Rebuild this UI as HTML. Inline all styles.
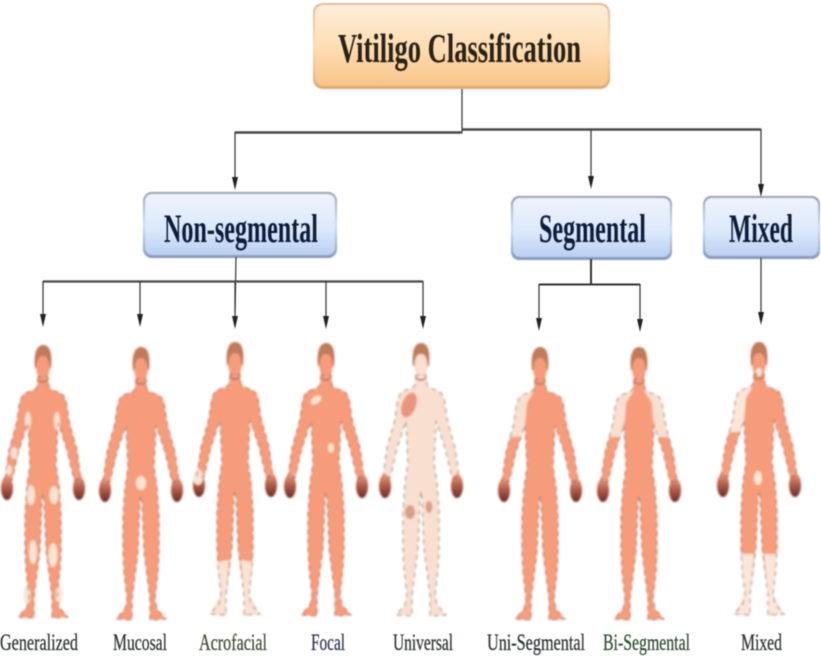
<!DOCTYPE html>
<html><head><meta charset="utf-8"><style>
html,body{margin:0;padding:0;background:#fff}
svg{display:block}
text{font-family:"Liberation Serif",serif}
</style></head><body>
<svg width="821" height="657" viewBox="0 0 821 657" xmlns="http://www.w3.org/2000/svg">
<defs>
<linearGradient id="o" x1="0" y1="0" x2="0" y2="1"><stop offset="0" stop-color="#fdeeda"/><stop offset=".55" stop-color="#fddcb0"/><stop offset="1" stop-color="#f8c488"/></linearGradient>
<linearGradient id="bl" x1="0" y1="0" x2="0" y2="1"><stop offset="0" stop-color="#eef4fd"/><stop offset=".6" stop-color="#dbe7fa"/><stop offset="1" stop-color="#b9cff2"/></linearGradient>
<linearGradient id="eo" x1="0" y1="0" x2="0" y2="1"><stop offset="0" stop-color="#dcb690"/><stop offset=".5" stop-color="#f6dcbc"/><stop offset="1" stop-color="#dca66e"/></linearGradient>
<linearGradient id="eb" x1="0" y1="0" x2="0" y2="1"><stop offset="0" stop-color="#8f9cb4"/><stop offset=".5" stop-color="#cfdcf2"/><stop offset="1" stop-color="#8496bb"/></linearGradient>
<linearGradient id="hd" x1="0" y1="0" x2="0" y2="1"><stop offset="0" stop-color="#f09c80"/><stop offset=".45" stop-color="#b5604c"/><stop offset="1" stop-color="#6e2a22"/></linearGradient>
<filter id="b" x="-5%" y="-5%" width="110%" height="110%"><feGaussianBlur stdDeviation="1"/></filter>
<filter id="t" x="-5%" y="-20%" width="110%" height="140%"><feGaussianBlur stdDeviation="0.6"/></filter>
<filter id="s" x="-5%" y="-10%" width="110%" height="125%"><feGaussianBlur stdDeviation="0.9"/></filter>
<path id="body" d="M-5,32 L-6,42 C-9,47 -17,46 -20,50 C-25,56 -24,68 -27,80 L-34,105 L-38,134 L-31,135 L-24,105 L-15,78 L-14,100 L-13,120 L-16,140 L-18,170 L-18,205 L-17,225 L-14,252 L-16,262 L-25,272 L-9,273 L-9,252 L-3,205 L-1,155 L0,148 L1,155 L3,205 L9,252 L9,273 L25,272 L16,262 L14,252 L17,225 L18,205 L18,170 L16,140 L13,120 L14,100 L15,78 L24,105 L31,135 L38,134 L34,105 L27,80 C24,68 25,56 20,50 C17,46 9,47 6,42 L5,32 Z"/>
<g id="line"><use href="#body" fill="none" stroke="#7d5f58" stroke-width="1" stroke-dasharray="5 4" opacity=".8"/></g>
<g id="hands"><ellipse cx="-36" cy="143" rx="6" ry="12" fill="url(#hd)"/><ellipse cx="36" cy="143" rx="6" ry="12" fill="url(#hd)"/></g>
<g id="head"><ellipse cx="0" cy="20" rx="7" ry="16"/></g>
<path id="hair" d="M-8,23 C-10,4 -4,0 0,0 C5,0 10,4 8,23 L6.500,23 C6,13 3,11 0,11 C-3,11 -6,13 -6.500,23Z M-6,33 Q0,39 6,33 L5,36 Q0,40 -5,36Z" fill="#c07a5c"/>
</defs>

<g filter="url(#s)">
<rect x="313" y="3" width="297" height="86" rx="10" fill="url(#eo)"/>
<rect x="143" y="192" width="194" height="66" rx="9" fill="url(#eb)"/>
<rect x="511" y="196" width="161" height="64" rx="8" fill="url(#eb)"/>
<rect x="703" y="196" width="117" height="63" rx="8" fill="url(#eb)"/>
<rect x="315" y="5" width="293" height="81" rx="8" fill="url(#o)"/>
<rect x="145" y="194" width="190" height="61" rx="7" fill="url(#bl)"/>
<rect x="513" y="198" width="157" height="59" rx="7" fill="url(#bl)"/>
<rect x="705" y="198" width="113" height="58" rx="7" fill="url(#bl)"/>
</g>

<g filter="url(#t)" fill="none" stroke="#333" stroke-width="1.2">
<path d="M462,89V133"/>
<path d="M235,132.500H462" stroke-width="2.400" stroke="#4a4a4a"/>
<path d="M462,129.500H761" stroke-width="2.400" stroke="#4a4a4a"/>
<path d="M235,132V180M591,130V178M761,129V186"/>
<path d="M236,257L235,318M235,281V318"/>
<path d="M43,281.500H423" stroke-width="2.200" stroke="#4a4a4a"/>
<path d="M43,281V316M140,281V316M326,281V316M423,281V318"/>
<path d="M591,259V284M539,284.500H640" stroke-width="2"/>
<path d="M539,284V318M640,284V320"/>
<path d="M761,258V314"/>
<g fill="#222" stroke="none">
<path d="M232,177H238L235,190Z"/>
<path d="M588,176H594L591,189Z"/>
<path d="M758,184H764L761,197Z"/>
<path d="M40,314H46L43,327Z"/>
<path d="M137,314H143L140,327Z"/>
<path d="M232,316H238L235,329Z"/>
<path d="M323,316H329L326,329Z"/>
<path d="M420,316H426L423,329Z"/>
<path d="M536,318H542L539,331Z"/>
<path d="M637,319H643L640,332Z"/>
<path d="M758,312H764L761,325Z"/>
</g>
</g>

<g filter="url(#b)">
<!-- Generalized -->
<g transform="translate(43,345)">
<use href="#body" fill="#f79c7a"/><use href="#head" fill="#f79c7a"/><use href="#hands"/>
<g fill="#fbe3d2"><ellipse cx="-15" cy="76" rx="3" ry="9"/><ellipse cx="14" cy="76" rx="3" ry="9"/><ellipse cx="-29" cy="108" rx="3.500" ry="6"/><ellipse cx="-12" cy="150" rx="4" ry="10"/><ellipse cx="11" cy="150" rx="4.500" ry="9"/><ellipse cx="-10" cy="207" rx="4" ry="12"/><ellipse cx="10" cy="210" rx="4.500" ry="12"/><ellipse cx="-16" cy="250" rx="3.500" ry="9"/><ellipse cx="16" cy="250" rx="3.500" ry="9"/><ellipse cx="-34" cy="125" rx="3" ry="5"/></g>
<use href="#line"/><use href="#hair"/></g>
<!-- Mucosal -->
<g transform="translate(141,347)">
<use href="#body" fill="#f79c7a"/><use href="#head" fill="#f79c7a"/><use href="#hands"/>
<ellipse cx="0" cy="136" rx="5" ry="7" fill="#fbe3d2"/>
<use href="#line"/><use href="#hair"/></g>
<!-- Acrofacial -->
<g transform="translate(235,342)">
<use href="#body" fill="#f79c7a"/><use href="#head" fill="#f79c7a"/><use href="#hands"/>
<g fill="#fbe3d2"><path d="M-17,220L-6,218L-9,252L-9,272L-25,272L-14,252Z"/><path d="M17,220L6,218L9,252L9,272L25,272L14,252Z"/><ellipse cx="-37" cy="135" rx="5" ry="8"/></g>
<use href="#line"/><use href="#hair"/></g>
<!-- Focal -->
<g transform="translate(326,343)">
<use href="#body" fill="#f79c7a"/><use href="#head" fill="#f79c7a"/><use href="#hands"/>
<g fill="#fbe3d2"><ellipse cx="-10" cy="57" rx="6" ry="3.500" transform="rotate(-35 -10 57)"/><ellipse cx="5" cy="105" rx="3" ry="5"/></g>
<use href="#line"/><use href="#hair"/></g>
<!-- Universal -->
<g transform="translate(421,343)">
<use href="#body" fill="#f9dfcf"/><use href="#head" fill="#f9dfcf"/><use href="#hands"/>
<g fill="#e8967c"><ellipse cx="-12" cy="62" rx="7" ry="13" transform="rotate(20 -12 62)"/></g>
<g fill="#d99f8a"><ellipse cx="-11" cy="169" rx="5" ry="7"/><ellipse cx="8" cy="164" rx="3.500" ry="6"/></g>
<use href="#line"/><use href="#hair" fill="#cfa593"/></g>
<!-- Uni-Segmental -->
<g transform="translate(540,347)">
<use href="#body" fill="#f79c7a"/><use href="#head" fill="#f79c7a"/><use href="#hands"/>
<path d="M-6,44C-10,47 -17,46 -20,50C-25,56 -24,68 -27,80L-30,90L-19,90L-15,78L-13,56Z" fill="#f9dfcf"/>
<use href="#line"/><use href="#hair"/></g>
<!-- Bi-Segmental -->
<g transform="translate(639,347)">
<use href="#body" fill="#f79c7a"/><use href="#head" fill="#f79c7a"/><use href="#hands"/>
<g fill="#f9dfcf"><path d="M-4,42C-9,47 -17,46 -20,50C-25,56 -24,68 -27,80L-30,90L-19,90L-14,72L-13,56Z"/><path d="M4,42C9,47 17,46 20,50C25,56 24,68 27,80L30,90L19,90L14,72L13,56Z"/></g>
<use href="#line"/><use href="#hair"/></g>
<!-- Mixed -->
<g transform="translate(759,342)">
<use href="#body" fill="#f79c7a"/><use href="#head" fill="#f79c7a"/><use href="#hands"/>
<g fill="#fbe6d8"><path d="M-6,44C-10,47 -17,46 -20,50C-25,56 -24,68 -27,80L-30,90L-20,90L-15,78L-13,56Z"/><ellipse cx="-1" cy="136" rx="4" ry="7"/><path d="M-18,212L-5,212L-9,252L-9,272L-25,272L-14,252Z"/><path d="M18,212L5,212L9,252L9,272L25,272L14,252Z"/><ellipse cx="0" cy="30" rx="3" ry="4"/></g>
<use href="#line"/><use href="#hair"/></g>
</g>

<g filter="url(#t)">
<text x="338" y="62" font-size="41" font-weight="bold" fill="#2a2018" textLength="243" lengthAdjust="spacingAndGlyphs">Vitiligo Classification</text>
<text x="164" y="242" font-size="40" font-weight="bold" fill="#0d1a3a" textLength="154" lengthAdjust="spacingAndGlyphs">Non-segmental</text>
<text x="539" y="242" font-size="40" font-weight="bold" fill="#0d1a3a" textLength="107" lengthAdjust="spacingAndGlyphs">Segmental</text>
<text x="729" y="242" font-size="40" font-weight="bold" fill="#0d1a3a" textLength="64" lengthAdjust="spacingAndGlyphs">Mixed</text>
<g font-size="23" fill="#2b3032" stroke="#2b3032" stroke-width=".25">
<text x="0" y="650" textLength="78" lengthAdjust="spacingAndGlyphs">Generalized</text>
<text x="113" y="650" textLength="54" lengthAdjust="spacingAndGlyphs">Mucosal</text>
<text x="199" y="650" textLength="68" lengthAdjust="spacingAndGlyphs" fill="#3c4a30" stroke="#3c4a30">Acrofacial</text>
<text x="311" y="650" textLength="34" lengthAdjust="spacingAndGlyphs" fill="#2c3450" stroke="#2c3450">Focal</text>
<text x="393" y="650" textLength="60" lengthAdjust="spacingAndGlyphs">Universal</text>
<text x="487" y="650" textLength="98" lengthAdjust="spacingAndGlyphs">Uni-Segmental</text>
<text x="603" y="650" textLength="87" lengthAdjust="spacingAndGlyphs" fill="#2f4a30" stroke="#2f4a30">Bi-Segmental</text>
<text x="741" y="650" textLength="41" lengthAdjust="spacingAndGlyphs">Mixed</text>
</g>
</g>
</svg>
</body></html>
